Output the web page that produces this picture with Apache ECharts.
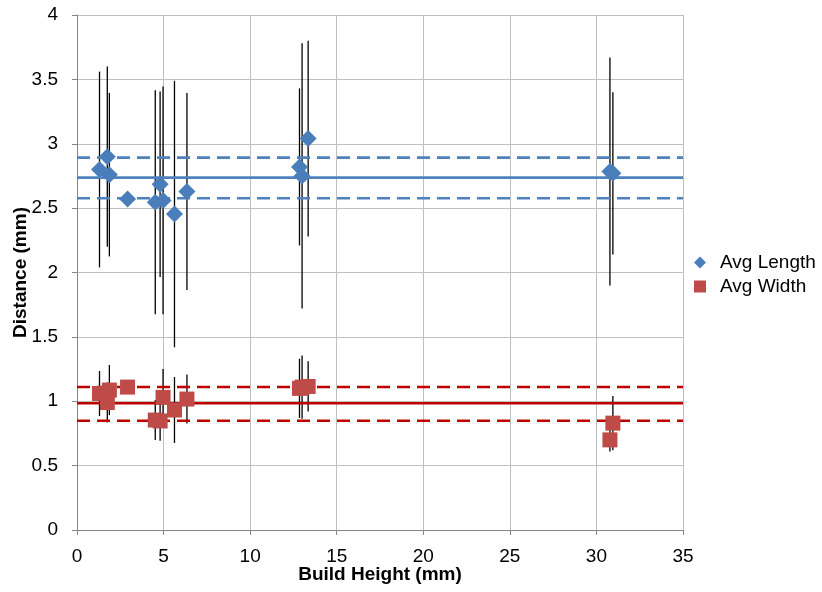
<!DOCTYPE html>
<html>
<head>
<meta charset="utf-8">
<script src="https://cdn.jsdelivr.net/npm/echarts@6/dist/echarts.min.js"></script>
<style>
html,body{margin:0;padding:0;background:#fff;}
#c{width:822px;height:592px;}
</style>
</head>
<body>
<div id="c"></div>
<script>
// Build heights (mm)
const buildHeight = [1.3, 1.75, 1.87, 2.92, 4.52, 4.8, 4.97, 5.63, 6.35, 12.85, 13.0, 13.35, 30.78, 30.95];
// Avg length and its std dev (mm)
const avgLength = [2.80, 2.90, 2.76, 2.57, 2.545, 2.685, 2.56, 2.455, 2.63, 2.82, 2.75, 3.04, 2.785, 2.77];
const sdLength  = [0.76, 0.70, 0.635, 0.03, 0.87, 0.72, 0.885, 1.035, 0.765, 0.61, 1.03, 0.76, 0.885, 0.63];
// Avg width and its std dev (mm)
const avgWidth = [1.06, 0.99, 1.087, 1.11, 0.854, 0.847, 1.03, 0.932, 1.017, 1.10, 1.11, 1.115, 0.70, 0.83];
const sdWidth  = [0.175, 0.156, 0.195, 0.03, 0.155, 0.153, 0.22, 0.256, 0.19, 0.23, 0.245, 0.195, 0.09, 0.21];
// Mean lines
const lengthMean = 2.737, lengthUpper = 2.892, lengthLower = 2.577;
const widthMean = 0.984, widthUpper = 1.111, widthLower = 0.849;
const xRange = [0, 35];

const BLUE = '#4a7ebb', RED = '#be4b48', BLUE_LINE = '#4f81bd', RED_LINE = '#c00000';
const FONT = 'Liberation Sans, Arial, sans-serif';

function errData(ys, es){ return buildHeight.map((x,i)=>[x, ys[i], es[i]]); }
function errSeries(ys, es){
  return {
    type:'custom', silent:true, z:1,
    renderItem:function(params, api){
      const x=api.value(0), y=api.value(1), e=api.value(2);
      const a=api.coord([x,y+e]), b=api.coord([x,y-e]);
      return {type:'line', shape:{x1:a[0],y1:a[1],x2:b[0],y2:b[1]}, style:{stroke:'#000', lineWidth:1.3}};
    },
    data: errData(ys, es)
  };
}
function hLine(v, color, dashed){
  return {
    type:'line', silent:true, z:2, symbol:'none',
    lineStyle:{color:color, width:2.6, type: dashed ? [13,7] : 'solid'},
    data:[[xRange[0], v],[xRange[1], v]]
  };
}

const chart = echarts.init(document.getElementById('c'));
chart.setOption({
  animation:false,
  backgroundColor:'#fff',
  textStyle:{fontFamily:FONT},
  grid:{left:77, right:139, top:15, bottom:62, containLabel:false, outerBoundsMode:'none'},
  legend:{
    orient:'vertical', left:689, top:248, itemGap:5,
    itemWidth:12, itemHeight:12,
    textStyle:{fontSize:19, color:'#000', fontFamily:FONT, padding:[0,0,0,9]},
    data:[{name:'Avg Length', icon:'diamond'},{name:'Avg Width', icon:'rect'}]
  },
  xAxis:{
    type:'value', min:xRange[0], max:xRange[1], interval:5,
    name:'Build Height (mm)', nameLocation:'middle', nameGap:35, nameMoveOverlap:false,
    nameTextStyle:{fontSize:19, fontWeight:'bold', color:'#000', fontFamily:FONT},
    axisLine:{show:true, lineStyle:{color:'#868686'}},
    axisTick:{show:true, length:5, lineStyle:{color:'#868686'}},
    axisLabel:{fontSize:19, color:'#000', margin:17, fontFamily:FONT},
    splitLine:{show:true, lineStyle:{color:'#bfbfbf', width:1}}
  },
  yAxis:{
    type:'value', min:0, max:4, interval:0.5,
    name:'Distance (mm)', nameLocation:'middle', nameGap:47, nameMoveOverlap:false,
    nameTextStyle:{fontSize:19, fontWeight:'bold', color:'#000', fontFamily:FONT},
    axisLine:{show:true, lineStyle:{color:'#868686'}},
    axisTick:{show:true, length:5, lineStyle:{color:'#868686'}},
    axisLabel:{fontSize:19, color:'#000', margin:19, fontFamily:FONT},
    splitLine:{show:true, lineStyle:{color:'#bfbfbf', width:1}}
  },
  series:[
    errSeries(avgLength, sdLength),
    errSeries(avgWidth, sdWidth),
    hLine(lengthMean, BLUE_LINE, false),
    hLine(lengthUpper, BLUE_LINE, true),
    hLine(lengthLower, BLUE_LINE, true),
    hLine(widthMean, RED_LINE, false),
    hLine(widthUpper, RED_LINE, true),
    hLine(widthLower, RED_LINE, true),
    {name:'Avg Length', type:'scatter', symbol:'diamond', symbolSize:17, z:5,
     itemStyle:{color:BLUE, opacity:1},
     data: buildHeight.map((x,i)=>[x, avgLength[i]])},
    {name:'Avg Width', type:'scatter', symbol:'rect', symbolSize:15, z:5,
     itemStyle:{color:RED, opacity:1},
     data: buildHeight.map((x,i)=>[x, avgWidth[i]])}
  ]
});
</script>
</body>
</html>
